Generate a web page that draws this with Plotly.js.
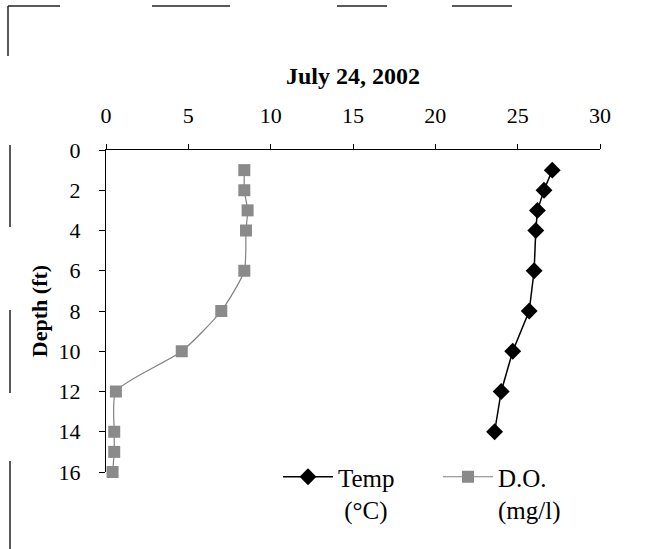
<!DOCTYPE html>
<html>
<head>
<meta charset="utf-8">
<script src="https://cdn.plot.ly/plotly-3.0.1.min.js"></script>
<style>html,body{margin:0;padding:0;background:#fff;}#chart{width:645px;height:549px;}</style>
</head>
<body>
<div id="chart"></div>
<script>
// Data
const tempDepth = [1, 2, 3, 4, 6, 8, 10, 12, 14];
const tempValues = [27.1, 26.6, 26.2, 26.1, 26.0, 25.7, 24.7, 24.0, 23.6];
const doDepth = [1, 2, 3, 4, 6, 8, 10, 12, 14, 15, 16];
const doValues = [8.4, 8.4, 8.6, 8.5, 8.4, 7.0, 4.6, 0.6, 0.5, 0.5, 0.4];
const seriesNames = ['Temp<br> (°C)', 'D.O.<br>(mg/l)'];
const xTicks = [0, 5, 10, 15, 20, 25, 30];
const yTicks = [0, 2, 4, 6, 8, 10, 12, 14, 16];

const W = 645, H = 549;
const M = {l: 106, r: 45, t: 150, b: 77};
const pw = W - M.l - M.r, ph = H - M.t - M.b;
const px = v => (v - M.l) / pw;
const py = v => 1 - (v - M.t) / ph;

function seg(x0, y0, x1, y1) {
  return {type: 'line', xref: 'paper', yref: 'paper', x0: px(x0), y0: py(y0), x1: px(x1), y1: py(y1),
          line: {color: '#222', width: 1.5}, layer: 'above'};
}

const serif = 'Liberation Serif, Times New Roman, serif';

const traces = [
  {x: tempValues, y: tempDepth, name: seriesNames[0], mode: 'lines+markers', cliponaxis: false,
   line: {color: '#000', width: 1.5},
   marker: {symbol: 'diamond', size: 13, color: '#000'}},
  {x: doValues, y: doDepth, name: seriesNames[1], mode: 'lines+markers', cliponaxis: false,
   line: {color: '#808080', width: 1.2, shape: 'spline', smoothing: 0.6},
   marker: {symbol: 'square', size: 12, color: '#8a8a8a'}}
];

const layout = {
  width: W, height: H,
  margin: Object.assign({autoexpand: false}, M),
  paper_bgcolor: '#fff', plot_bgcolor: '#fff',
  font: {family: serif, color: '#000', size: 22},
  title: {text: '<b>July 24, 2002</b>', font: {family: serif, size: 24, color: '#000'},
          xref: 'container', x: 353 / W, xanchor: 'center', y: 1 - 76 / H, yanchor: 'middle'},
  xaxis: {side: 'top', range: [0, 30], tickvals: xTicks, ticktext: xTicks.map(String),
          showgrid: false, zeroline: false, showline: true, linecolor: '#000', linewidth: 1,
          ticks: 'outside', ticklen: 5, tickcolor: '#000', tickfont: {size: 22, family: serif},
          ticklabelstandoff: 12, fixedrange: true},
  yaxis: {range: [16, 0], tickvals: yTicks, ticktext: yTicks.map(String),
          showgrid: false, zeroline: false, showline: true, linecolor: '#000', linewidth: 1,
          ticks: 'outside', ticklen: 6, tickcolor: '#000', tickfont: {size: 22, family: serif},
          ticklabelstandoff: 14,
          title: {text: '<b>Depth (ft)</b>', font: {family: serif, size: 22}, standoff: 4}, fixedrange: true},
  showlegend: true,
  legend: {orientation: 'h', x: px(278), xanchor: 'left', y: py(454), yanchor: 'top',
           bgcolor: 'rgba(0,0,0,0)', font: {family: serif, size: 25, color: '#000'},
           valign: 'top', itemwidth: 50, entrywidth: 95, entrywidthmode: 'pixels', tracegroupgap: 0},
  shapes: [
    seg(8, 6, 60, 6), seg(152, 6, 230, 6), seg(337, 6, 387, 6), seg(452, 6, 512, 6),
    seg(8, 6, 8, 56), seg(10, 145, 10, 227), seg(10, 310, 10, 393), seg(10, 461, 10, 549)
  ]
};

Plotly.newPlot('chart', traces, layout, {displayModeBar: false, staticPlot: true});
</script>
</body>
</html>
